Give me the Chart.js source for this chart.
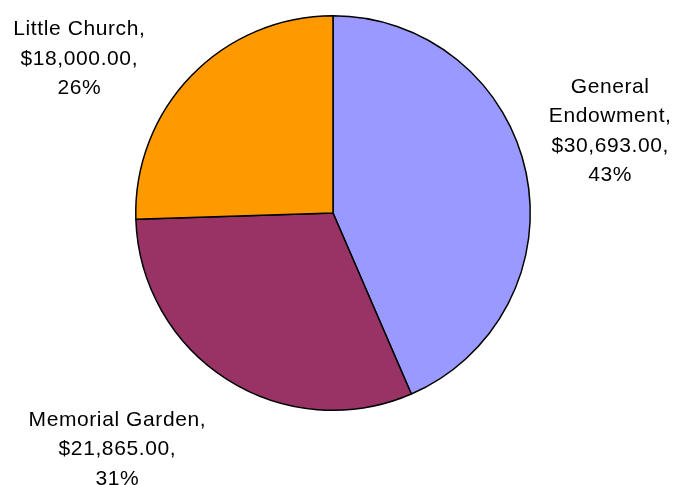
<!DOCTYPE html>
<html>
<head>
<meta charset="utf-8">
<script src="https://cdn.jsdelivr.net/npm/chart.js@4.4.0/dist/chart.umd.min.js"></script>
<style>
  html, body { margin: 0; padding: 0; background: #fff; }
  #wrap { width: 684px; height: 485px; }
</style>
</head>
<body>
<div id="wrap"><canvas id="pieChart" width="684" height="485"></canvas></div>
<script>
const categories = ["General Endowment", "Memorial Garden", "Little Church"];
const labelLines = [["General", "Endowment,"], ["Memorial Garden,"], ["Little Church,"]];
const amounts = [30693, 21865, 18000];
const percents = [43, 31, 26];
const colors = ["#9999FF", "#993366", "#FF9900"];

// nudge of each label from the arc's outer mid point
const labelNudge = [[84, -42], [-110, 70], [-112, -17]];

function money(v) {
  return "$" + v.toLocaleString("en-US", { minimumFractionDigits: 2, maximumFractionDigits: 2 }) + ",";
}

const outsideLabels = {
  id: "outsideLabels",
  afterDatasetsDraw(chart) {
    const ctx = chart.ctx;
    const meta = chart.getDatasetMeta(0);
    ctx.save();
    ctx.font = "21px 'Liberation Sans', Arial, sans-serif";
    ctx.letterSpacing = "0.6px";
    ctx.fillStyle = "#000";
    ctx.textAlign = "center";
    ctx.textBaseline = "middle";
    const lh = 29.5;
    meta.data.forEach((arc, i) => {
      const p = arc.getProps(["x", "y", "startAngle", "endAngle", "outerRadius"], true);
      const mid = (p.startAngle + p.endAngle) / 2;
      const ax = p.x + Math.cos(mid) * p.outerRadius + labelNudge[i][0];
      const ay = p.y + Math.sin(mid) * p.outerRadius + labelNudge[i][1];
      const lines = labelLines[i].concat([money(amounts[i]), percents[i] + "%"]);
      const top = ay - (lines.length - 1) * lh / 2;
      lines.forEach((t, k) => ctx.fillText(t, ax, top + k * lh));
    });
    ctx.restore();
  }
};

new Chart(document.getElementById("pieChart"), {
  type: "pie",
  data: {
    labels: categories,
    datasets: [{
      data: amounts,
      backgroundColor: colors,
      borderColor: "#000",
      borderWidth: 1.5
    }]
  },
  options: {
    responsive: false,
    animation: false,
    layout: { padding: { top: 15, bottom: 74, left: 135, right: 153 } },
    plugins: {
      legend: { display: false },
      tooltip: { enabled: false }
    }
  },
  plugins: [outsideLabels]
});
</script>
</body>
</html>
